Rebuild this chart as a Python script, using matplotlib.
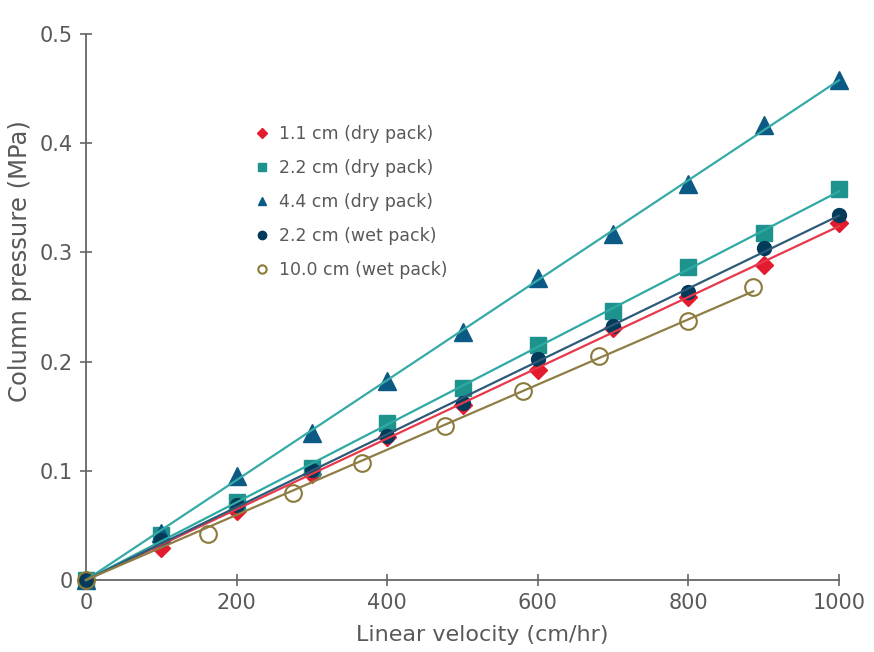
import matplotlib.pyplot as plt
from matplotlib.lines import Line2D
import numpy as np

plt.rcParams['font.family'] = ['DejaVu Sans']

# 1.1 cm (dry pack)
x_dry11 = [0, 100, 200, 300, 400, 500, 600, 700, 800, 900, 1000]
y_dry11 = [0, 0.029, 0.063, 0.097, 0.131, 0.160, 0.192, 0.231, 0.259, 0.288, 0.327]
# 2.2 cm (dry pack)
x_dry22 = [0, 100, 200, 300, 400, 500, 600, 700, 800, 900, 1000]
y_dry22 = [0, 0.041, 0.071, 0.103, 0.144, 0.176, 0.215, 0.246, 0.287, 0.318, 0.358]
# 4.4 cm (dry pack)
x_dry44 = [0, 100, 200, 300, 400, 500, 600, 700, 800, 900, 1000]
y_dry44 = [0, 0.043, 0.095, 0.135, 0.182, 0.227, 0.277, 0.317, 0.363, 0.417, 0.458]
# 2.2 cm (wet pack)
x_wet22 = [0, 100, 200, 300, 400, 500, 600, 700, 800, 900, 1000]
y_wet22 = [0, 0.037, 0.069, 0.101, 0.132, 0.162, 0.202, 0.233, 0.264, 0.304, 0.334]
# 10.0 cm (wet pack)
x_wet10 = [0, 162, 275, 367, 477, 580, 681, 800, 886]
y_wet10 = [0, 0.042, 0.080, 0.107, 0.141, 0.173, 0.205, 0.237, 0.268]

labels = ['1.1 cm (dry pack)', '2.2 cm (dry pack)', '4.4 cm (dry pack)',
          '2.2 cm (wet pack)', '10.0 cm (wet pack)']

series = [
    # x, y, marker, marker colour, line colour, size, filled
    (x_dry11, y_dry11, 'D', '#e31b2f', '#e8384a', 9, True),
    (x_dry22, y_dry22, 's', '#1e938e', '#2fa9a3', 12, True),
    (x_dry44, y_dry44, '^', '#0b5a85', '#35aaa6', 13, True),
    (x_wet22, y_wet22, 'o', '#023a5a', '#2d5a78', 10, True),
    (x_wet10, y_wet10, 'o', '#8c7a3a', '#8e7d45', 12, False),
]

fig = plt.figure(figsize=(8.74, 6.52), dpi=100)
ax = fig.add_axes([0.0984, 0.1104, 0.8616, 0.8375])

handles = []
for (x, y, m, mc, lc, ms, filled), lab in zip(series, labels):
    x = np.array(x, dtype=float)
    y = np.array(y, dtype=float)
    if filled:
        ax.plot(x, y, m, ms=ms, color=mc, mec=mc, ls='none', clip_on=False, zorder=3)
    else:
        ax.plot(x, y, m, ms=ms, mfc='none', mec=mc, mew=1.5, ls='none',
                clip_on=False, zorder=3)
    # straight fit line through the origin
    k = np.sum(x * y) / np.sum(x * x)
    xs = np.array([x.min(), x.max()])
    ax.plot(xs, k * xs, color=lc, lw=1.6, zorder=4, clip_on=False)
    handles.append(Line2D([], [], marker=m, ls='none', ms=6 if m != 'D' else 5,
                          color=mc, mfc=mc if filled else 'white',
                          mec=mc, mew=1.5 if not filled else 1))

ax.set_xlim(0, 1000)
ax.set_ylim(0, 0.5)
ax.set_xticks([0, 200, 400, 600, 800, 1000])
ax.set_yticks([0, 0.1, 0.2, 0.3, 0.4, 0.5])
ax.set_yticklabels(['0', '0.1', '0.2', '0.3', '0.4', '0.5'])

gray = '#666666'
txt = '#58595b'
for s in ['top', 'right']:
    ax.spines[s].set_visible(False)
for s in ['left', 'bottom']:
    ax.spines[s].set_color(gray)
    ax.spines[s].set_linewidth(1.3)
ax.tick_params(direction='inout', length=9, width=1.2, color=gray,
               labelcolor=txt, labelsize=15, pad=5)

ax.set_xlabel('Linear velocity (cm/hr)', fontsize=16, color=txt)
ax.set_ylabel('Column pressure (MPa)', fontsize=17.5, color=txt)
ax.xaxis.set_label_coords(0.526, -0.082)
ax.yaxis.set_label_coords(-0.072, 0.585)

leg = ax.legend(handles, labels, loc='upper left', bbox_to_anchor=(0.202, 0.862),
                frameon=False, fontsize=12.5, labelspacing=0.92,
                handletextpad=0.45, handlelength=1.0, labelcolor=txt)

fig.savefig('out.png', dpi=100)
